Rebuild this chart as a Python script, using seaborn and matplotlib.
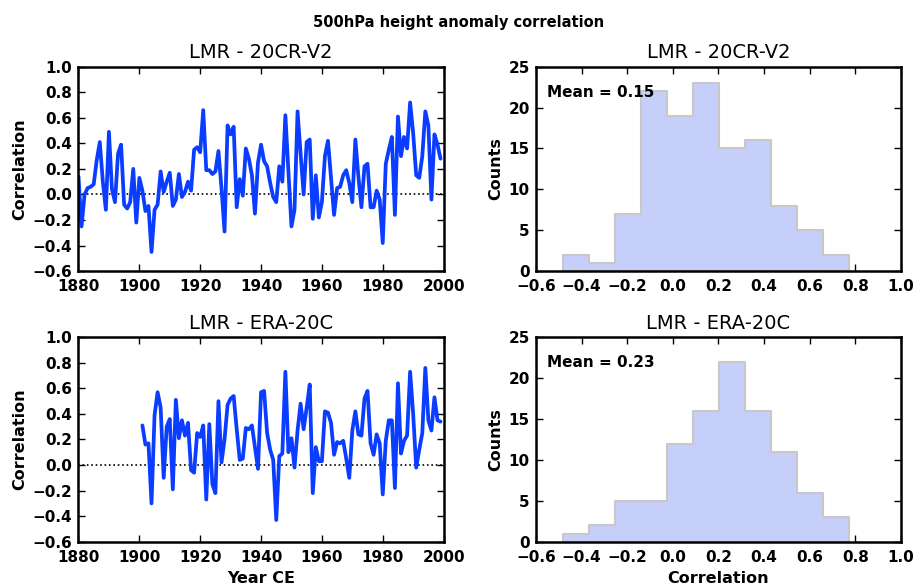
import numpy as np
import pandas as pd
import seaborn as sns
import matplotlib
matplotlib.use('Agg')
import matplotlib.pyplot as plt

# LMR vs 20CR-V2, 1880-1999
years_20cr = list(range(1880, 2000))
corr_20cr = [0.14, -0.25, 0.00, 0.05, 0.06, 0.08, 0.27, 0.41, 0.10, -0.12,
             0.49, 0.04, -0.06, 0.32, 0.39, -0.08, -0.11, -0.06, 0.20, -0.22,
             0.13, 0.03, -0.13, -0.09, -0.45, -0.12, -0.08, 0.18, 0.02, 0.10,
             0.17, -0.09, -0.04, 0.16, -0.02, 0.02, 0.10, 0.03, 0.35, 0.37,
             0.33, 0.66, 0.19, 0.19, 0.16, 0.18, 0.34, 0.05, -0.29, 0.54,
             0.47, 0.53, -0.10, 0.12, -0.01, 0.36, 0.28, 0.15, -0.15, 0.25,
             0.39, 0.26, 0.22, 0.09, -0.02, -0.06, 0.22, 0.10, 0.62, 0.18,
             -0.25, -0.12, 0.65, 0.32, 0.00, 0.41, 0.43, -0.19, 0.15, -0.18,
             -0.06, 0.30, 0.42, 0.13, -0.16, 0.05, 0.06, 0.15, 0.19, 0.09,
             -0.06, 0.43, 0.14, -0.10, 0.22, 0.24, -0.10, -0.10, 0.03, -0.04,
             -0.38, 0.24, 0.35, 0.45, -0.16, 0.61, 0.30, 0.45, 0.36, 0.72,
             0.48, 0.15, 0.13, 0.30, 0.65, 0.54, -0.04, 0.47, 0.39, 0.28]

# LMR vs ERA-20C, 1901-1999
years_era = list(range(1901, 2000))
corr_era = [0.31, 0.16, 0.17, -0.30, 0.39, 0.57, 0.45, -0.10, 0.30,
            0.36, -0.19, 0.51, 0.21, 0.35, 0.23, 0.33, -0.04, -0.06, 0.25,
            0.22, 0.31, -0.27, 0.32, -0.15, -0.22, 0.50, 0.02, 0.20, 0.47,
            0.52, 0.54, 0.28, 0.04, 0.05, 0.29, 0.28, 0.31, 0.14, -0.03,
            0.57, 0.58, 0.25, 0.12, 0.04, -0.43, 0.07, 0.09, 0.73, 0.10,
            0.21, -0.02, 0.27, 0.48, 0.28, 0.45, 0.63, -0.22, 0.14, 0.03,
            0.03, 0.42, 0.41, 0.33, 0.08, 0.18, 0.17, 0.19, 0.05, -0.10,
            0.27, 0.42, 0.24, 0.23, 0.52, 0.58, 0.17, 0.08, 0.24, 0.17,
            -0.23, 0.19, 0.35, 0.35, -0.18, 0.64, 0.09, 0.19, 0.23, 0.73,
            0.40, -0.02, 0.12, 0.25, 0.76, 0.35, 0.27, 0.53, 0.35, 0.34]

# histogram bins and counts
bin_edges = [-0.48, -0.366, -0.252, -0.139, -0.025, 0.089, 0.203,
             0.317, 0.431, 0.544, 0.658, 0.772]
counts_20cr = [2, 1, 7, 22, 19, 23, 15, 16, 8, 5, 2]
counts_era = [1, 2, 5, 5, 12, 16, 22, 16, 11, 6, 3]
mean_20cr = 0.15
mean_era = 0.23

titles = ['LMR - 20CR-V2', 'LMR - ERA-20C']

sns.set_theme(style='ticks', rc={
    'axes.linewidth': 1.8,
    'axes.edgecolor': 'black',
    'axes.labelcolor': 'black',
    'text.color': 'black',
    'xtick.color': 'black', 'ytick.color': 'black',
    'xtick.direction': 'in', 'ytick.direction': 'in',
    'xtick.top': True, 'ytick.right': True,
    'xtick.major.size': 5, 'ytick.major.size': 5,
    'xtick.major.width': 1, 'ytick.major.width': 1,
    'xtick.major.pad': 6, 'ytick.major.pad': 4.5,
    'xtick.labelsize': 11, 'ytick.labelsize': 11,
})
plt.rcParams['font.family'] = ['DejaVu Sans']
plt.rcParams['font.weight'] = 'bold'

fig, axes = plt.subplots(2, 2, figsize=(9.17, 5.86), dpi=100)
fig.subplots_adjust(left=0.0856, right=0.9826, bottom=0.0756, top=0.8862,
                    wspace=0.253, hspace=0.3235)

series = [(years_20cr, corr_20cr), (years_era, corr_era)]
hists = [(counts_20cr, mean_20cr), (counts_era, mean_era)]
centers = [(bin_edges[i] + bin_edges[i + 1]) / 2 for i in range(len(bin_edges) - 1)]

for row in range(2):
    ax = axes[row, 0]
    yrs, vals = series[row]
    df = pd.DataFrame({'year': yrs, 'corr': vals})
    ax.axhline(0, color='black', ls=':', lw=1.2, zorder=1)
    sns.lineplot(data=df, x='year', y='corr', ax=ax, color='#0a3dff', lw=2.7, zorder=2)
    ax.set_xlim(1880, 2000)
    ax.set_ylim(-0.6, 1.0)
    ax.set_xticks(np.arange(1880, 2001, 20))
    ax.set_yticks(np.arange(-0.6, 1.01, 0.2))
    ax.set_title(titles[row], fontsize=14, fontweight='normal')
    ax.set_ylabel('Correlation', fontsize=11.5, fontweight='bold')
    ax.set_xlabel('Year CE' if row == 1 else '', fontsize=11.5, fontweight='bold')

    ax = axes[row, 1]
    cnts, mval = hists[row]
    sns.histplot(x=centers, weights=cnts, bins=bin_edges, element='step', fill=True,
                 ax=ax, color='#c6cefa', alpha=1.0, edgecolor='#c8c8c8', linewidth=1.5)
    ax.set_xlim(-0.6, 1.0)
    ax.set_ylim(0, 25)
    ax.set_xticks(np.arange(-0.6, 1.01, 0.2))
    ax.set_yticks(np.arange(0, 26, 5))
    ax.set_title(titles[row], fontsize=14, fontweight='normal')
    ax.set_ylabel('Counts', fontsize=11.5, fontweight='bold')
    ax.set_xlabel('Correlation' if row == 1 else '', fontsize=11.5, fontweight='bold')
    ax.text(0.03, 0.876, 'Mean = %.2f' % mval, transform=ax.transAxes,
            fontsize=11, fontweight='bold', va='center', ha='left')

for ax in axes.flat:
    for lab in ax.get_xticklabels() + ax.get_yticklabels():
        lab.set_fontweight('bold')

fig.suptitle('500hPa height anomaly correlation', fontsize=10.5, fontweight='bold', y=0.974)

plt.savefig('out.png', dpi=100)
